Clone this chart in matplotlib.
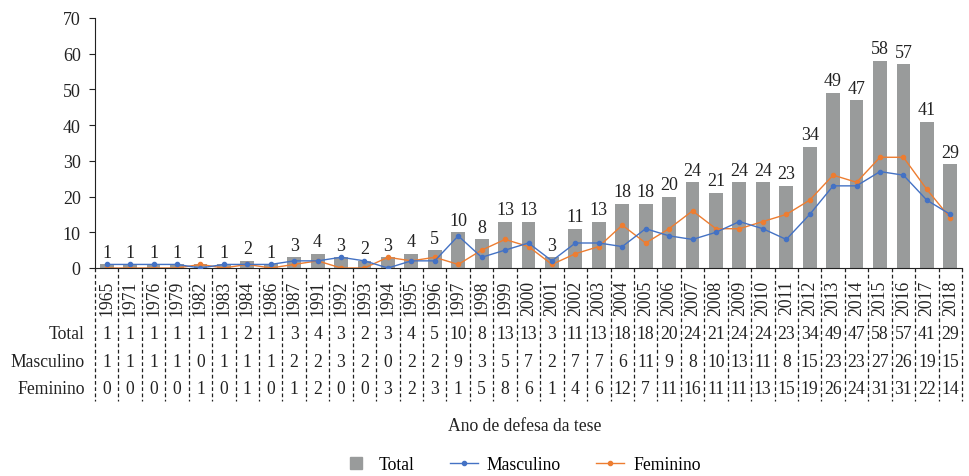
import matplotlib
matplotlib.use("Agg")
import matplotlib.pyplot as plt
import matplotlib.transforms as mtransforms
from matplotlib.lines import Line2D
import numpy as np

years = ["1965","1971","1976","1979","1982","1983","1984","1986","1987","1991","1992","1993",
         "1994","1995","1996","1997","1998","1999","2000","2001","2002","2003","2004","2005",
         "2006","2007","2008","2009","2010","2011","2012","2013","2014","2015","2016","2017","2018"]
total = [1,1,1,1,1,1,2,1,3,4,3,2,3,4,5,10,8,13,13,3,11,13,18,18,20,24,21,24,24,23,34,49,47,58,57,41,29]
masculino = [1,1,1,1,0,1,1,1,2,2,3,2,0,2,2,9,3,5,7,2,7,7,6,11,9,8,10,13,11,8,15,23,23,27,26,19,15]
feminino = [0,0,0,0,1,0,1,0,1,2,0,0,3,2,3,1,5,8,6,1,4,6,12,7,11,16,11,11,13,15,19,26,24,31,31,22,14]
yticks = [0,10,20,30,40,50,60,70]

plt.rcParams['font.family'] = ['Liberation Serif', 'DejaVu Serif']
FS = 12.7
TXT = '#222222'

GRAY = '#999b9b'
BLUE = '#4472c4'
ORANGE = '#ed7d31'

fig = plt.figure(figsize=(9.69, 4.77), dpi=100)
ax = fig.add_axes([95/969, 1-269/477, (962-95)/969, 250/477])

x = np.arange(len(years))
ax.bar(x, total, width=0.59, color=GRAY, zorder=1)
ax.plot(x, masculino, color=BLUE, lw=1.0, marker='o', ms=3, zorder=3)
ax.plot(x, feminino, color=ORANGE, lw=1.0, marker='o', ms=3, zorder=2)
for xi, v in zip(x, total):
    ax.text(xi, v + 1.0, str(v), ha='center', va='bottom', fontsize=13, color=TXT)

ax.set_xlim(-0.5, len(years) - 0.5)
ax.set_ylim(0, 70)
ax.set_yticks(yticks)
ax.tick_params(axis='y', labelsize=13, length=4.3, pad=6, direction='out', colors=TXT)
ax.set_xticks([])
for s in ['top', 'right']:
    ax.spines[s].set_visible(False)
ax.spines['left'].set_color(TXT)
ax.spines['bottom'].set_color(TXT)

trans = mtransforms.blended_transform_factory(ax.transData, ax.transAxes)
bottom_y = -0.53
for b in np.arange(-0.5, len(years), 1.0):
    ax.add_line(Line2D([b, b], [0, bottom_y], transform=trans, color=TXT,
                       lw=0.9, ls=(0, (3, 2)), clip_on=False))

rows = [("Total", total, -0.264), ("Masculino", masculino, -0.376), ("Feminino", feminino, -0.484)]
for xi, yr in zip(x, years):
    ax.text(xi, -0.116, yr, transform=trans, ha='center', va='center', rotation=90,
            fontsize=FS, color=TXT)
for name, vals, yy in rows:
    ax.text(-0.012, yy, name, transform=ax.transAxes, ha='right', va='center',
            fontsize=FS, color=TXT)
    for xi, v in zip(x, vals):
        ax.text(xi, yy, str(v), transform=trans, ha='center', va='center',
                fontsize=FS, color=TXT)

fig.text(525/969, 1-427/477, "Ano de defesa da tese", ha='center', va='center',
         fontsize=FS, color=TXT)

handles = [Line2D([], [], color=GRAY, marker='s', ms=9, ls='none'),
           Line2D([], [], color=BLUE, lw=1.0, marker='o', ms=3),
           Line2D([], [], color=ORANGE, lw=1.0, marker='o', ms=3)]
fig.legend(handles, ["Total", "Masculino", "Feminino"], loc='center',
           bbox_to_anchor=(521/969, 1-466/477), ncol=3, frameon=False, fontsize=FS,
           handlelength=1.6, columnspacing=2.0, handletextpad=0.5)

fig.savefig("out.png", dpi=100)
